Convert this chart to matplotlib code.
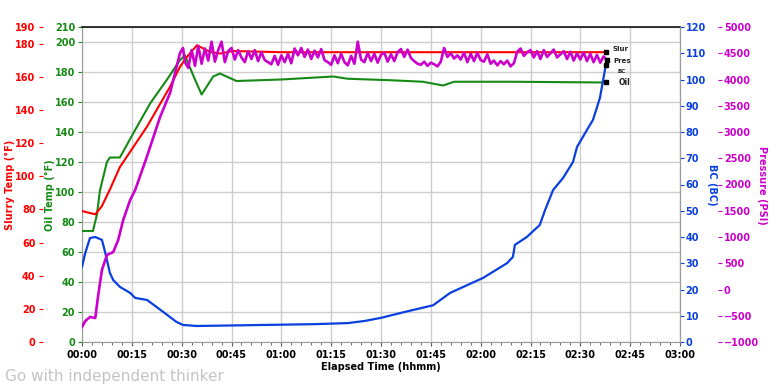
import matplotlib.pyplot as plt
from matplotlib.ticker import MultipleLocator, FixedLocator

# elapsed time in minutes
oil_t = [0, 3.3, 4.5, 5.4, 7.5, 8.4, 11.4, 15.4, 20.5, 25.6, 29.5, 31, 34, 36, 39.5, 41.5, 46.5,
         60, 75.6, 80, 93, 102.6, 108.7, 112, 130, 157.7]
oil_temp = [74, 74, 85, 101, 120, 123, 123, 139, 159, 175, 188, 191, 175, 165, 177, 179, 174,
            175, 177, 175.5, 174.5, 173.5, 171, 173.5, 173.5, 173]

slur_t = [0, 2, 4, 6, 8.4, 11.4, 19.6, 26.5, 29.5, 31.6, 34.6, 38.5, 41.5, 45.5, 60, 100, 157.7]
slur_temp = [79, 78, 77, 82, 92, 105.5, 130, 154, 166, 172, 179, 175, 174, 175.5, 174.8, 174.8, 174.8]

bc_t = [0, 1, 2.4, 4, 6, 7, 8.4, 9.4, 11.4, 14.5, 16, 19.6, 24.5, 28.5, 30.4, 34.5, 45, 60, 70, 80,
        85, 90, 95.7, 100, 105.7, 110.8, 120.7, 127.9, 129.7, 130.3, 133.9, 137.8, 139.4, 141.8,
        144.8, 147.8, 149, 152, 153.8, 155.9, 157.4, 157.7]
bc_val = [28.6, 34, 39.6, 40, 38.9, 34, 26.3, 23.6, 21, 18.7, 16.8, 16, 11.4, 7.6, 6.5, 6.1, 6.3,
          6.6, 6.8, 7.2, 8, 9.2, 11, 12.3, 14, 18.7, 24.4, 30, 32.4, 37, 40, 44.6, 50.3, 57.9,
          62.5, 68.6, 74.3, 80.8, 84.6, 93, 103.6, 105.5]

# pressure: ramp-up, then one reading per minute from 31 to 158
pres_t_ramp = [0, 1, 2.4, 4, 4.8, 6, 7.5, 9.4, 10.9, 12.4, 14.5, 16, 19.5, 23.5, 26.5, 29.5, 30.4]
pres_ramp = [-714, -600, -524, -543, -143, 371, 657, 714, 943, 1324, 1705, 1895, 2524, 3286,
             3743, 4505, 4600]
pres_t_flat = list(range(31, 159))
pres_flat = [4330, 4220, 4560, 4260, 4640, 4300, 4590, 4360, 4720, 4340,
             4560, 4720, 4330, 4540, 4600, 4380, 4560, 4420, 4330, 4540,
             4390, 4560, 4350, 4520, 4370, 4330, 4290, 4450, 4280, 4460,
             4330, 4490, 4310, 4590, 4460, 4600, 4430, 4570, 4390, 4550,
             4420, 4580, 4370, 4330, 4280, 4460, 4310, 4490, 4330, 4270,
             4450, 4300, 4720, 4380, 4330, 4510, 4350, 4490, 4320, 4470,
             4510, 4340, 4480, 4350, 4520, 4580, 4430, 4570, 4410, 4350,
             4300, 4280, 4340, 4260, 4320, 4290, 4250, 4340, 4600, 4430,
             4500, 4400, 4460, 4380, 4510, 4330, 4490, 4350, 4510, 4370,
             4340, 4480, 4300, 4360, 4270, 4350, 4290, 4360, 4250, 4310,
             4530, 4590, 4450, 4520, 4560, 4420, 4540, 4390, 4560, 4430,
             4500, 4570, 4420, 4480, 4540, 4390, 4530, 4360, 4500, 4380,
             4520, 4350, 4490, 4330, 4470, 4320, 4440, 4370]
pres_t = pres_t_ramp + pres_t_flat
pres_val = pres_ramp + pres_flat

x_ticks = list(range(0, 181, 15))
x_labels = ['00:00', '00:15', '00:30', '00:45', '01:00', '01:15', '01:30', '01:45',
            '02:00', '02:15', '02:30', '02:45', '03:00']

RED = '#ff0000'
GREEN = '#168a16'
BLUE = '#0a3fe0'
MAG = '#cc00cc'
FS = 7

plt.rcParams['font.family'] = 'DejaVu Sans'
plt.rcParams['font.weight'] = 'bold'

fig = plt.figure(figsize=(7.75, 3.88), dpi=100)
ax = fig.add_axes([82/775, 1-342/388, 598/775, 315/388])

# oil temp on the main axes (grid follows it)
ax.set_xlim(0, 180)
ax.set_ylim(0, 210)
ax.yaxis.set_major_locator(FixedLocator(list(range(0, 201, 20)) + [210]))
ax.set_xticks(x_ticks)
ax.set_xticklabels(x_labels)
ax.xaxis.set_minor_locator(MultipleLocator(3))
ax.grid(True, color='#cdcdcd', lw=1)
ax.set_axisbelow(True)
ax.tick_params(axis='y', colors=GREEN, labelsize=FS, length=3, pad=2)
ax.tick_params(axis='x', labelsize=FS, length=3, pad=3, color='#555555')
ax.tick_params(axis='x', which='minor', length=2, color='#555555')
for s in ['left', 'bottom', 'right']:
    ax.spines[s].set_color('#9a9a9a')
ax.spines['top'].set_color('#222222')
ax.spines['top'].set_linewidth(1.3)
ax.plot(oil_t, oil_temp, color=GREEN, lw=1.5, zorder=3)
ax.set_xlabel('Elapsed Time (hhmm)', fontsize=FS, fontweight='bold', labelpad=1)

# slurry temp, far left
ax_s = ax.twinx()
ax_s.set_ylim(0, 190)
ax_s.yaxis.set_major_locator(FixedLocator(list(range(0, 181, 20)) + [190]))
ax_s.yaxis.set_ticks_position('left')
ax_s.spines['left'].set_position(('axes', -0.066))
for s in ax_s.spines.values():
    s.set_visible(False)
ax_s.tick_params(axis='y', colors=RED, labelsize=FS, length=3, pad=2)

# BC on right spine
ax_b = ax.twinx()
ax_b.set_ylim(0, 120)
ax_b.yaxis.set_major_locator(MultipleLocator(10))
for s in ['left', 'top', 'bottom']:
    ax_b.spines[s].set_visible(False)
ax_b.spines['right'].set_color('#9a9a9a')
ax_b.tick_params(axis='y', colors=BLUE, labelsize=FS, length=3, pad=1)

# pressure, far right
ax_p = ax.twinx()
ax_p.set_ylim(-1000, 5000)
ax_p.yaxis.set_major_locator(MultipleLocator(500))
ax_p.spines['right'].set_position(('axes', 1.064))
for s in ax_p.spines.values():
    s.set_visible(False)
ax_p.tick_params(axis='y', colors=MAG, labelsize=FS, length=3, pad=1)

ax_p.plot(pres_t, pres_val, color=MAG, lw=1.9)
ax_b.plot(bc_t, bc_val, color=BLUE, lw=1.6)
ax_s.plot(slur_t, slur_temp, color=RED, lw=1.5)

# end markers and their labels
ends = [(ax_s, slur_t[-1], slur_temp[-1], 'Slur', (5, 2), 5),
        (ax_p, pres_t[-1], pres_val[-1], 'Pres', (5, -1), 5),
        (ax_b, bc_t[-1], bc_val[-1], 'BC', (8, -4.5), 4),
        (ax, oil_t[-1], oil_temp[-1], 'Oil', (9, 0), 5.5)]
for a, tx, ty, name, off, fs in ends:
    a.plot(tx, ty, 's', color='black', ms=3, zorder=5)
    a.annotate(name, (tx, ty), xytext=off, textcoords='offset points', fontsize=fs,
               va='center', ha='left', color='#222222')

# axis titles
fig.text(10/775, 1-185/388, 'Slurry Temp (°F)', rotation=90, color=RED, fontsize=FS,
         fontweight='bold', ha='center', va='center')
fig.text(50/775, 1-195/388, 'Oil Temp (°F)', rotation=90, color=GREEN, fontsize=FS,
         fontweight='bold', ha='center', va='center')
fig.text(712/775, 1-185/388, 'BC (BC)', rotation=270, color=BLUE, fontsize=FS,
         fontweight='bold', ha='center', va='center')
fig.text(762/775, 1-185/388, 'Pressure (PSI)', rotation=270, color=MAG, fontsize=FS,
         fontweight='bold', ha='center', va='center')

fig.text(5/775, 1-377/388, 'Go with independent thinker', color='#c4c4c4', fontsize=11,
         fontweight='normal', ha='left', va='center')

fig.savefig('out.png', dpi=100)
